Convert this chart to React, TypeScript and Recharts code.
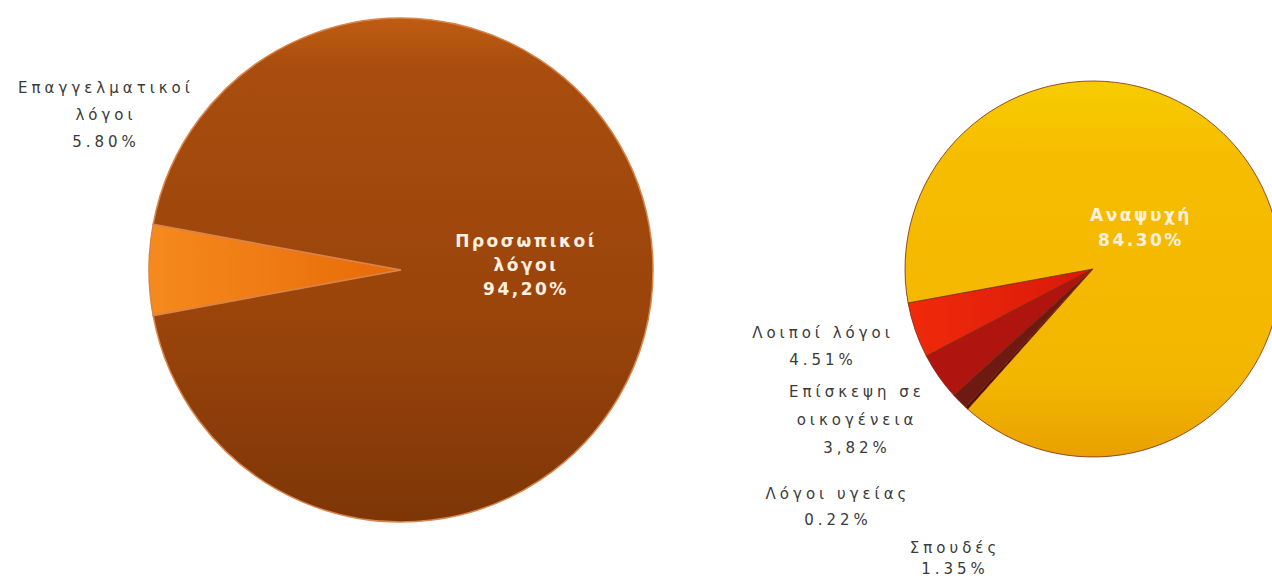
import React from 'react'
import { PieChart, Pie, Cell } from 'recharts'

// Left pie: reasons for travel
const travelNames = ['Επαγγελματικοί λόγοι', 'Προσωπικοί λόγοι']
const travelValues = [5.8, 94.2]
const travelLabels = [
  ['Επαγγελματικοί', 'λόγοι', '5.80%'],
  ['Προσωπικοί', 'λόγοι', '94,20%'],
]

// Right pie: breakdown of personal reasons
const personalNames = ['Λοιποί λόγοι', 'Επίσκεψη σε οικογένεια', 'Σπουδές', 'Λόγοι υγείας', 'Αναψυχή']
const personalValues = [4.51, 3.82, 1.35, 0.22, 84.3]
const personalLabels = [
  ['Λοιποί λόγοι', '4.51%'],
  ['Επίσκεψη σε', 'οικογένεια', '3,82%'],
  ['Σπουδές', '1.35%'],
  ['Λόγοι υγείας', '0.22%'],
  ['Αναψυχή', '84.30%'],
]

const travelData = travelNames.map((name, i) => ({ name, value: travelValues[i] }))
const personalData = personalNames.map((name, i) => ({ name, value: personalValues[i] }))

const travelFills = ['url(#gOrange)', 'url(#gBrown)']
const personalFills = ['url(#gRed)', '#b0140e', '#6e1a12', '#4a0f0a', 'url(#gYellow)']

// label anchor offsets from the pie centre (layout only)
const travelLabelPos = [
  { dx: -295, dy: -177, inside: false, lh: 27 },
  { dx: 125, dy: -23, inside: true, lh: 24 },
]
const personalLabelPos = [
  { dx: -270, dy: 69, inside: false, lh: 27 },
  { dx: -236, dy: 128, inside: false, lh: 28 },
  { dx: -138, dy: 284, inside: false, lh: 21 },
  { dx: -255, dy: 230, inside: false, lh: 26 },
  { dx: 48, dy: -48, inside: true, lh: 25 },
]

const font = '"DejaVu Sans", Arial, sans-serif'

function makeLabel(lines: string[][], pos: { dx: number; dy: number; inside: boolean; lh: number }[]) {
  return (props: any) => {
    const { cx, cy, index } = props
    const p = pos[index]
    const rows = lines[index]
    return (
      <text
        key={`lbl-${index}`}
        x={cx + p.dx}
        y={cy + p.dy}
        textAnchor="middle"
        fontFamily={font}
        fontSize={p.inside ? 17 : 15}
        fontWeight={p.inside ? 700 : 400}
        fill={p.inside ? '#fff0e0' : '#3a3a3a'}
        letterSpacing={p.inside ? 2.5 : 4}
      >
        {rows.map((r, i) => (
          <tspan key={i} x={cx + p.dx} dy={i === 0 ? 0 : p.lh}>
            {r}
          </tspan>
        ))}
      </text>
    )
  }
}

const travelStart = 180 - (travelValues[0] / 100) * 180
const personalStart = 190.4

export default function App() {
  return (
    <div style={{ position: 'absolute', left: 0, top: 0, width: 1272, height: 578, background: '#fff' }}>
      <PieChart width={1272} height={578}>
        <defs>
          <linearGradient id="gBrown" x1="0" y1="0" x2="0" y2="1">
            <stop offset="0%" stopColor="#c05c12" />
            <stop offset="10%" stopColor="#a84d0e" />
            <stop offset="60%" stopColor="#9a440b" />
            <stop offset="100%" stopColor="#7e3607" />
          </linearGradient>
          <linearGradient id="gOrange" x1="0" y1="0" x2="1" y2="0">
            <stop offset="0%" stopColor="#f58a1e" />
            <stop offset="100%" stopColor="#e86a08" />
          </linearGradient>
          <linearGradient id="gYellow" x1="0" y1="0" x2="0" y2="1">
            <stop offset="0%" stopColor="#f6cc00" />
            <stop offset="20%" stopColor="#f6bd00" />
            <stop offset="80%" stopColor="#f3b600" />
            <stop offset="100%" stopColor="#e9a000" />
          </linearGradient>
          <linearGradient id="gRed" x1="0" y1="0" x2="1" y2="0">
            <stop offset="0%" stopColor="#f02a0a" />
            <stop offset="100%" stopColor="#d8180a" />
          </linearGradient>
        </defs>
        <Pie
          data={travelData}
          dataKey="value"
          nameKey="name"
          cx={396}
          cy={265}
          outerRadius={252}
          startAngle={travelStart}
          endAngle={travelStart + 360}
          stroke="#d9844a"
          strokeWidth={1.5}
          labelLine={false}
          label={makeLabel(travelLabels, travelLabelPos)}
          isAnimationActive={false}
        >
          {travelData.map((d, i) => (
            <Cell key={`t-${i}`} fill={travelFills[i]} />
          ))}
        </Pie>
        <Pie
          data={personalData}
          dataKey="value"
          nameKey="name"
          cx={1088}
          cy={264}
          outerRadius={188}
          startAngle={personalStart}
          endAngle={personalStart + 360}
          stroke="#7a2a10"
          strokeWidth={0.8}
          labelLine={false}
          label={makeLabel(personalLabels, personalLabelPos)}
          isAnimationActive={false}
        >
          {personalData.map((d, i) => (
            <Cell key={`p-${i}`} fill={personalFills[i]} />
          ))}
        </Pie>
      </PieChart>
    </div>
  )
}
